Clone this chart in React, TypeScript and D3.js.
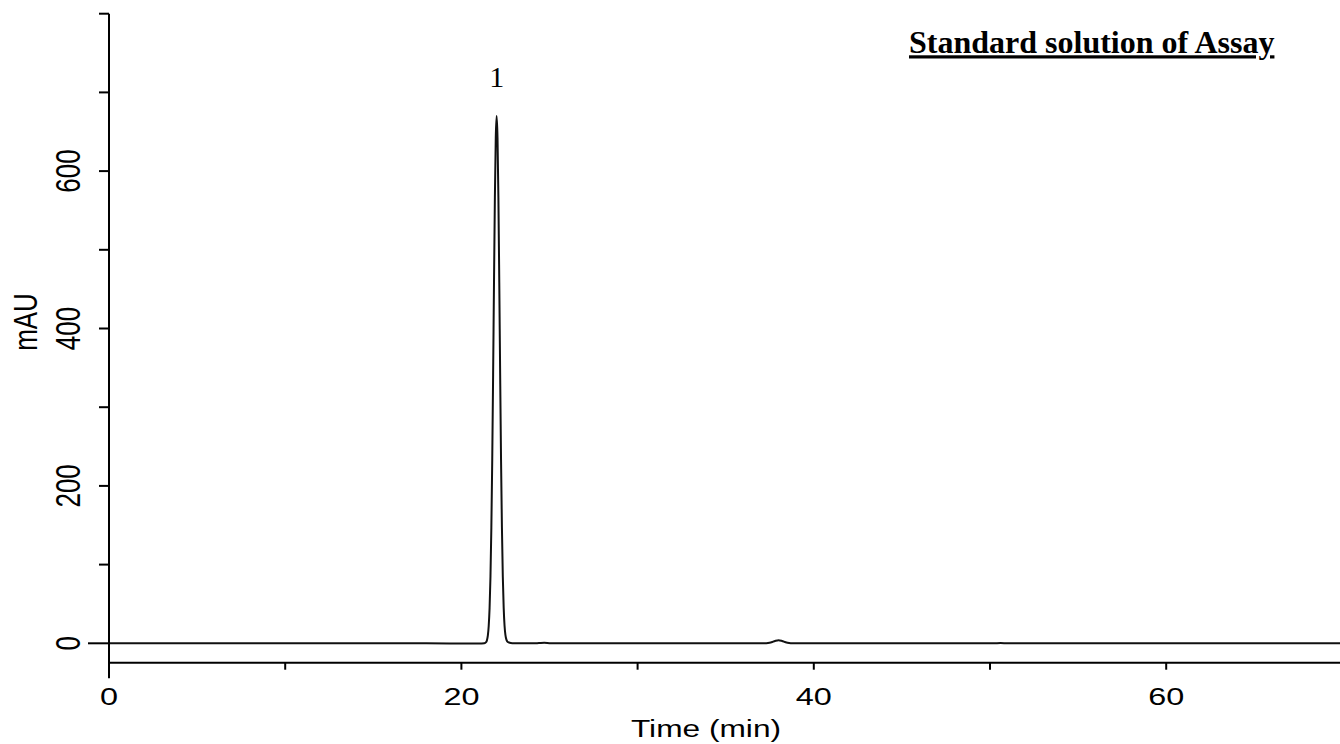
import * as d3 from 'd3';

// Chromatogram trace (time in min, absorbance in mAU)
const traceTime = [
  0, 2, 5, 8, 10, 12, 15, 18, 20, 21.0, 21.3, 21.4, 21.45, 21.5, 21.55, 21.6, 21.65, 21.7,
  21.75, 21.8, 21.85, 21.9, 21.95, 22.0, 22.05, 22.1, 22.15, 22.2, 22.25, 22.3, 22.35, 22.4,
  22.45, 22.5, 22.55, 22.6, 22.7, 22.8, 23.0, 24.0, 24.4, 24.7, 25.0, 25.5, 28, 30, 33, 36,
  37.2, 37.4, 37.6, 37.8, 38.0, 38.2, 38.4, 38.6, 38.8, 39.2, 42, 45, 48, 50.2, 50.6, 51,
  55, 60, 65, 70,
];
const traceMAU = [
  0, 0, 0, 0, 0, 0, 0, 0, -0.2, -0.2, 0.2, 1.5, 4, 9.8, 22, 45, 85, 147,
  233, 341, 458, 566, 642, 670, 642, 566, 458, 341, 233, 147, 85, 45,
  22, 10.5, 5, 2.5, 1, 0.4, 0.1, 0, 0.3, 0.6, 0.2, 0, 0, 0, 0, 0,
  0.1, 0.4, 1.4, 3.0, 4, 3.0, 1.4, 0.4, 0.1, 0, 0, 0, 0, 0, 0.4, 0,
  0, 0, 0, 0,
];

const xTicks = [0, 10, 20, 30, 40, 50, 60, 70];
const xTickLabels = [0, 20, 40, 60];
const yTicks = [0, 100, 200, 300, 400, 500, 600, 700, 800];
const yTickLabels = [0, 200, 400, 600];

const peakNames = ['1'];
const peakTimes = [22.0];
const peakHeights = [670];

const title = 'Standard solution of Assay';

export default function App() {
  const width = 1340;
  const height = 744;

  const x = d3.scaleLinear().domain([0, 70]).range([109, 109 + 70 * 17.62]);
  const y = d3.scaleLinear().domain([0, 800]).range([643.3, 13.7]);
  const axisY = 662.7;

  const points = traceTime.map((t, i) => [t, traceMAU[i]] as [number, number]);
  const line = d3
    .line<[number, number]>()
    .x(d => x(d[0]))
    .y(d => y(d[1]))
    .curve(d3.curveMonotoneX);

  const sans = 'Liberation Sans, Arial, sans-serif';
  const serif = 'Liberation Serif, Times New Roman, serif';

  return (
    <svg
      width={width}
      height={height}
      style={{ position: 'absolute', left: 0, top: 0, background: '#fff' }}
    >
      {/* trace */}
      <path d={line(points) || ''} fill="none" stroke="#111" strokeWidth={2} />

      {/* y axis */}
      <line x1={x(0)} x2={x(0)} y1={y(800)} y2={axisY + 15.5} stroke="#000" strokeWidth={2} />
      {yTicks.map(v => (
        <line
          key={'yt' + v}
          x1={x(0) - (v === 0 ? 21 : 10)}
          x2={x(0)}
          y1={y(v)}
          y2={y(v)}
          stroke="#000"
          strokeWidth={2}
        />
      ))}
      {yTickLabels.map(v => (
        <text
          key={'yl' + v}
          transform={`translate(80,${y(v)}) scale(1.35,1) rotate(-90)`}
          textAnchor="middle"
          fontFamily={sans}
          fontSize={26}
          fill="#000"
        >
          {v}
        </text>
      ))}
      <text
        transform={`translate(36.5,322) scale(1.3,1) rotate(-90)`}
        textAnchor="middle"
        fontFamily={sans}
        fontSize={26}
        fill="#000"
      >
        mAU
      </text>

      {/* x axis */}
      <line x1={x(0)} x2={width} y1={axisY} y2={axisY} stroke="#000" strokeWidth={2} />
      {xTicks.map(v => (
        <line
          key={'xt' + v}
          x1={x(v)}
          x2={x(v)}
          y1={axisY}
          y2={axisY + 7}
          stroke="#000"
          strokeWidth={2}
        />
      ))}
      {xTickLabels.map(v => (
        <text
          key={'xl' + v}
          transform={`translate(${x(v)},705) scale(1.35,1)`}
          textAnchor="middle"
          fontFamily={sans}
          fontSize={24}
          fill="#000"
        >
          {v}
        </text>
      ))}
      <text
        transform="translate(706,736.7) scale(1.32,1)"
        textAnchor="middle"
        fontFamily={sans}
        fontSize={24}
        fill="#000"
      >
        Time (min)
      </text>

      {/* peak labels */}
      {peakNames.map((name, i) => (
        <text
          key={'pk' + name}
          x={x(peakTimes[i])}
          y={y(peakHeights[i]) - 29}
          textAnchor="middle"
          fontFamily={serif}
          fontSize={30}
          fill="#000"
        >
          {name}
        </text>
      ))}

      {/* title */}
      <text
        x={909}
        y={53.3}
        fontFamily={serif}
        fontSize={32}
        fontWeight="bold"
        fill="#000"
        style={{ textDecoration: 'underline' }}
      >
        {title}
      </text>
    </svg>
  );
}
